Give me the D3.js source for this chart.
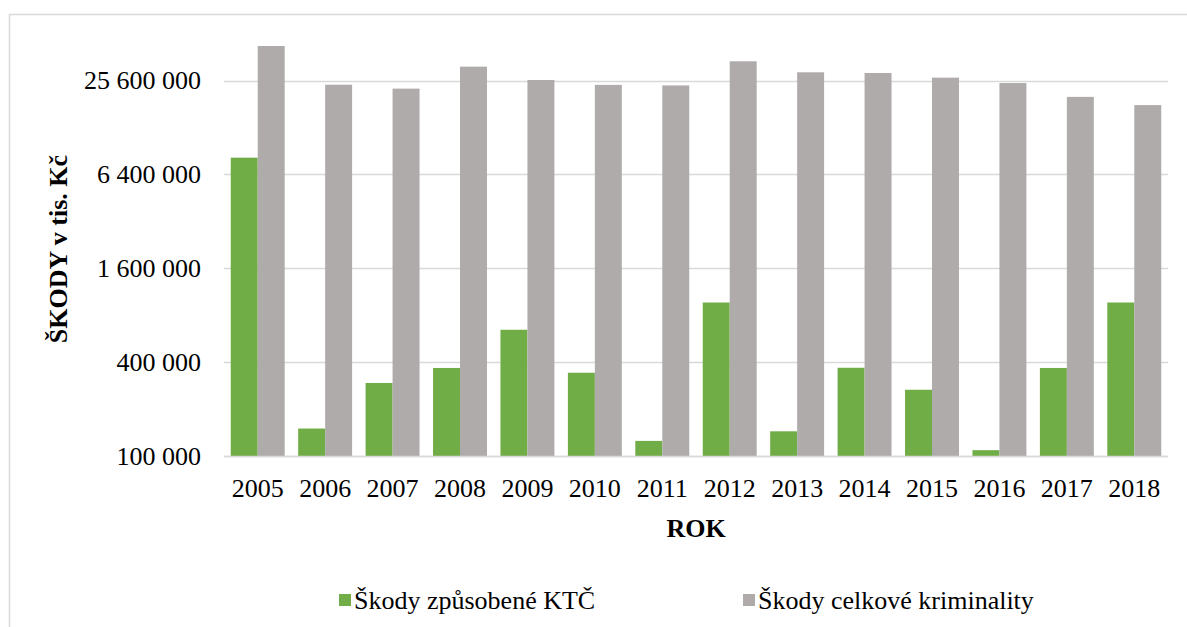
<!DOCTYPE html>
<html>
<head>
<meta charset="utf-8">
<script src="https://cdn.jsdelivr.net/npm/d3@7"></script>
<style>
  body { margin: 0; background: #fff; }
  text { font-family: "Liberation Serif", "Times New Roman", serif; fill: #000; }
</style>
</head>
<body>
<div id="chart"></div>
<script>
var years = ["2005","2006","2007","2008","2009","2010","2011","2012","2013","2014","2015","2016","2017","2018"];
var ktc = [8190000, 150000, 294000, 367000, 645000, 342000, 125000, 965000, 144000, 368000, 266000, 109000, 367000, 965000];
var celkem = [42600000, 24050000, 22700000, 31400000, 25800000, 24000000, 23800000, 34000000, 28900000, 28600000, 26700000, 24650000, 20100000, 17800000];
var yTicks = [100000, 400000, 1600000, 6400000, 25600000];
var seriesNames = ["Škody způsobené KTČ", "Škody celkové kriminality"];
var colors = ["#70ad47", "#afabab"];

var W = 1187, H = 627;
var svg = d3.select("#chart").append("svg").attr("width", W).attr("height", H);

// outer chart border (left + top only visible)
svg.append("path")
    .attr("d", "M9.5," + H + " V14.5 H" + W)
    .attr("fill", "none").attr("stroke", "#d9d9d9").attr("stroke-width", 1.5);

var plot = {left: 224, right: 1168, top: 80.5, bottom: 456};

var x = d3.scaleBand().domain(years).range([plot.left, plot.right]).paddingInner(0.2).paddingOuter(0.1);
var x0 = d3.scaleBand().domain(years).range([plot.left, plot.right]);
var y = d3.scaleLog().base(4).domain([100000, 25600000]).range([plot.bottom, plot.top]);

var fmt = function(v) { return d3.format(",")(v).replace(/,/g, " "); };

// gridlines
svg.append("g").selectAll("line").data(yTicks).join("line")
    .attr("x1", plot.left).attr("x2", plot.right)
    .attr("y1", function(d) { return Math.round(y(d)) + 0.5; })
    .attr("y2", function(d) { return Math.round(y(d)) + 0.5; })
    .attr("stroke", "#d9d9d9").attr("stroke-width", 1.5);

// y tick labels
svg.append("g").selectAll("text").data(yTicks).join("text")
    .attr("x", 201).attr("y", function(d) { return y(d); })
    .attr("dy", "0.34em")
    .attr("text-anchor", "end")
    .attr("font-size", 26)
    .text(fmt);

// bars
var barW = x0.bandwidth() * 0.8 / 2;
var groups = svg.append("g").selectAll("g").data(years).join("g")
    .attr("transform", function(d) { return "translate(" + (x0(d) + x0.bandwidth() * 0.1) + ",0)"; });

groups.append("rect")
    .attr("x", 0).attr("width", barW)
    .attr("y", function(d, i) { return y(ktc[i]); })
    .attr("height", function(d, i) { return plot.bottom - y(ktc[i]); })
    .attr("fill", colors[0]);

groups.append("rect")
    .attr("x", barW).attr("width", barW)
    .attr("y", function(d, i) { return y(celkem[i]); })
    .attr("height", function(d, i) { return plot.bottom - y(celkem[i]); })
    .attr("fill", colors[1]);

// x axis line
svg.append("line")
    .attr("x1", plot.left).attr("x2", plot.right)
    .attr("y1", plot.bottom + 0.5).attr("y2", plot.bottom + 0.5)
    .attr("stroke", "#d9d9d9").attr("stroke-width", 1.5);

// x labels
svg.append("g").selectAll("text").data(years).join("text")
    .attr("x", function(d) { return x0(d) + x0.bandwidth() / 2; })
    .attr("y", 497)
    .attr("text-anchor", "middle")
    .attr("font-size", 26)
    .text(function(d) { return d; });

// axis titles
svg.append("text")
    .attr("x", (plot.left + plot.right) / 2).attr("y", 537)
    .attr("text-anchor", "middle")
    .attr("font-size", 26).attr("font-weight", "bold")
    .text("ROK");

svg.append("text")
    .attr("transform", "translate(67,249) rotate(-90)")
    .attr("text-anchor", "middle")
    .attr("font-size", 26).attr("font-weight", "bold")
    .text("ŠKODY v tis. Kč");

// legend
var legendX = [339, 743];
var legend = svg.append("g").selectAll("g").data(seriesNames).join("g")
    .attr("transform", function(d, i) { return "translate(" + legendX[i] + ",600)"; });
legend.append("rect")
    .attr("x", 0).attr("y", -6).attr("width", 12).attr("height", 12)
    .attr("fill", function(d, i) { return colors[i]; });
legend.append("text")
    .attr("x", 15).attr("y", 0).attr("dy", "0.34em")
    .attr("font-size", 26)
    .text(function(d) { return d; });
</script>
</body>
</html>
